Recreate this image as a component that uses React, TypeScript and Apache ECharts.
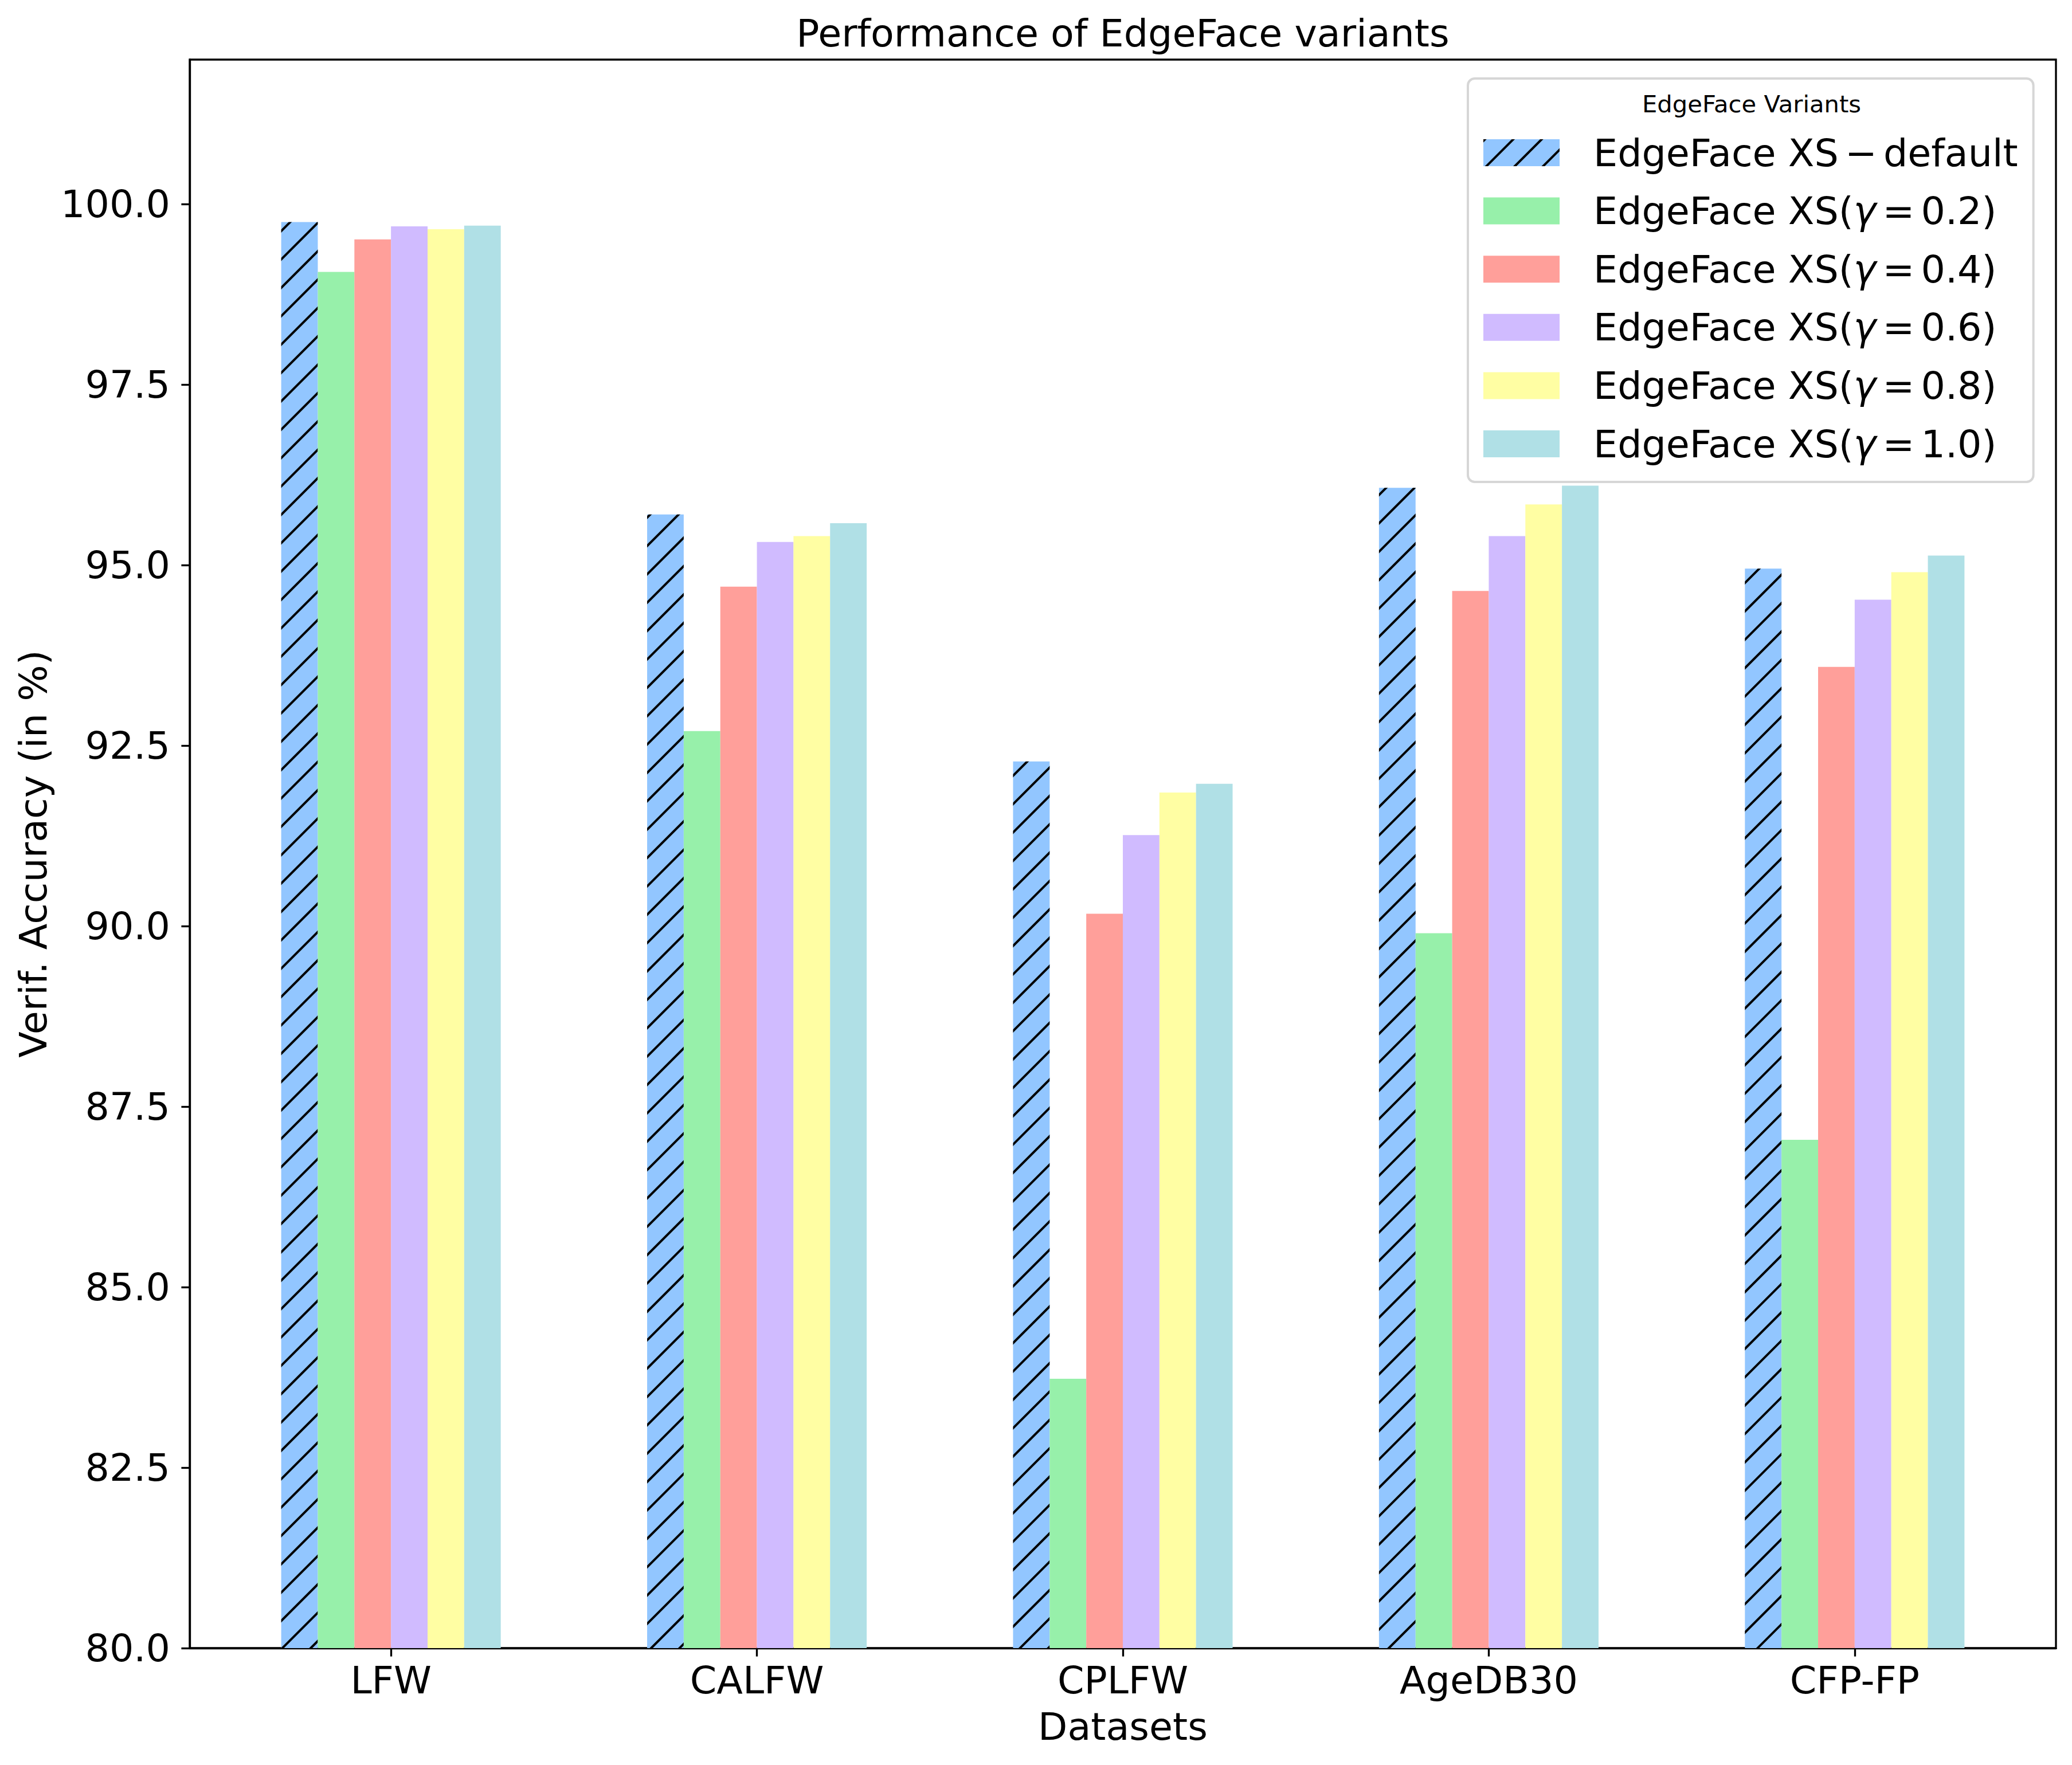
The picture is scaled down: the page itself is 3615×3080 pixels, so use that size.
import React, { useEffect, useRef } from 'react';
import * as echarts from 'echarts';

const categories = ['LFW', 'CALFW', 'CPLFW', 'AgeDB30', 'CFP-FP'];
const categoryPositions = [0, 1, 2, 3, 4];
const seriesNames = [
  'EdgeFace XS\u2006−\u2006default',
  'EdgeFace XS(γ\u2006=\u20060.2)',
  'EdgeFace XS(γ\u2006=\u20060.4)',
  'EdgeFace XS(γ\u2006=\u20060.6)',
  'EdgeFace XS(γ\u2006=\u20060.8)',
  'EdgeFace XS(γ\u2006=\u20061.0)',
];
const xsDefault = [99.75, 95.7, 92.28, 96.07, 94.95];
const xsGamma02 = [99.06, 92.7, 83.73, 89.9, 87.04];
const xsGamma04 = [99.51, 94.7, 90.17, 94.64, 93.59];
const xsGamma06 = [99.69, 95.32, 91.26, 95.4, 94.52];
const xsGamma08 = [99.65, 95.4, 91.85, 95.84, 94.9];
const xsGamma10 = [99.7, 95.58, 91.97, 96.1, 95.13];
const yTickValues = [80, 82.5, 85, 87.5, 90, 92.5, 95, 97.5, 100];
const colors = ['#92C6FF', '#97F0AA', '#FF9F9A', '#D0BBFF', '#FFFEA3', '#B0E0E6'];

const FONT = 'DejaVu Sans';
const FS = 66.7;
const LW = 3.33;

export default function App() {
  const ref = useRef<HTMLDivElement>(null);
  useEffect(() => {
    if (!ref.current) return;
    const chart = echarts.init(ref.current, null, { renderer: 'svg' });
    const allValues = [xsDefault, xsGamma02, xsGamma04, xsGamma06, xsGamma08, xsGamma10];
    const series = allValues.map((vals, si) => ({
      name: seriesNames[si],
      type: 'bar',
      data: categoryPositions.map((x, i) => [x, vals[i]]),
      barWidth: '10%',
      barGap: '0%',
      itemStyle: si === 0
        ? {
            color: colors[si],
            decal: {
              symbol: 'rect',
              symbolSize: 1,
              color: '#000000',
              dashArrayX: [1, 0],
              dashArrayY: [4, 31],
              rotation: -Math.PI / 4,
            },
          }
        : { color: colors[si] },
    }));
    chart.setOption({
      animation: false,
      backgroundColor: '#ffffff',
      textStyle: { fontFamily: FONT },
      title: [
        {
          text: 'Performance of EdgeFace variants',
          left: 1959,
          top: 24.5,
          padding: 0,
          textAlign: 'center',
          textStyle: { fontFamily: FONT, fontSize: FS, fontWeight: 'normal', color: '#000', lineHeight: FS },
        },
        {
          text: 'EdgeFace Variants',
          left: 3056,
          top: 160.7,
          padding: 0,
          textAlign: 'center',
          z: 10,
          textStyle: { fontFamily: FONT, fontSize: 41.7, fontWeight: 'normal', color: '#000', lineHeight: 41.7 },
        },
      ],
      grid: {
        left: 331,
        top: 104,
        right: 28,
        bottom: 204,
        show: true,
        borderColor: '#000',
        borderWidth: LW,
        backgroundColor: 'transparent',
      },
      legend: {
        orient: 'vertical',
        left: 2561,
        top: 137,
        padding: [96, 27, 33, 27],
        itemWidth: 133,
        itemHeight: 47,
        itemGap: 34.6,
        icon: 'rect',
        selectedMode: false,
        backgroundColor: 'rgba(255,255,255,0.8)',
        borderColor: '#d6d6d6',
        borderWidth: 4,
        borderRadius: 12,
        data: seriesNames,
        formatter: (name: string) => name.split('γ').join('{g|γ}'),
        textStyle: {
          fontFamily: FONT,
          fontSize: FS,
          lineHeight: FS,
          color: '#000',
          padding: [0, 0, 0, 54],
          rich: {
            g: { fontFamily: FONT, fontSize: FS, lineHeight: FS, fontStyle: 'italic', color: '#000' },
          },
        },
      },
      xAxis: {
        type: 'value',
        min: -0.55,
        max: 4.55,
        name: 'Datasets',
        nameLocation: 'middle',
        nameGap: 103.6,
        nameTextStyle: { fontFamily: FONT, fontSize: FS, color: '#000', lineHeight: FS },
        axisLine: { show: true, onZero: false, lineStyle: { color: '#000', width: LW } },
        axisTick: { show: true, length: 14.6, lineStyle: { color: '#000', width: LW }, customValues: categoryPositions },
        axisLabel: {
          show: true,
          margin: 23,
          fontFamily: FONT,
          fontSize: FS,
          lineHeight: FS,
          color: '#000',
          customValues: categoryPositions,
          formatter: (v: number) => categories[Math.round(v)] ?? '',
        },
        splitLine: { show: false },
      },
      yAxis: {
        type: 'value',
        min: 80,
        max: 102,
        interval: 2.5,
        name: 'Verif. Accuracy (in %)',
        nameLocation: 'middle',
        nameGap: 240,
        nameRotate: 90,
        nameTextStyle: { fontFamily: FONT, fontSize: FS, color: '#000', lineHeight: FS },
        axisLine: { show: true, onZero: false, lineStyle: { color: '#000', width: LW } },
        axisTick: { show: true, length: 14.6, lineStyle: { color: '#000', width: LW }, customValues: yTickValues },
        axisLabel: {
          show: true,
          margin: 34,
          fontFamily: FONT,
          fontSize: FS,
          lineHeight: FS,
          color: '#000',
          customValues: yTickValues,
          formatter: (v: number) => v.toFixed(1),
        },
        splitLine: { show: false },
      },
      series,
    });
    return () => chart.dispose();
  }, []);
  return (
    <div
      ref={ref}
      style={{ position: 'absolute', left: 0, top: 0, width: 3615, height: 3080 }}
    />
  );
}
